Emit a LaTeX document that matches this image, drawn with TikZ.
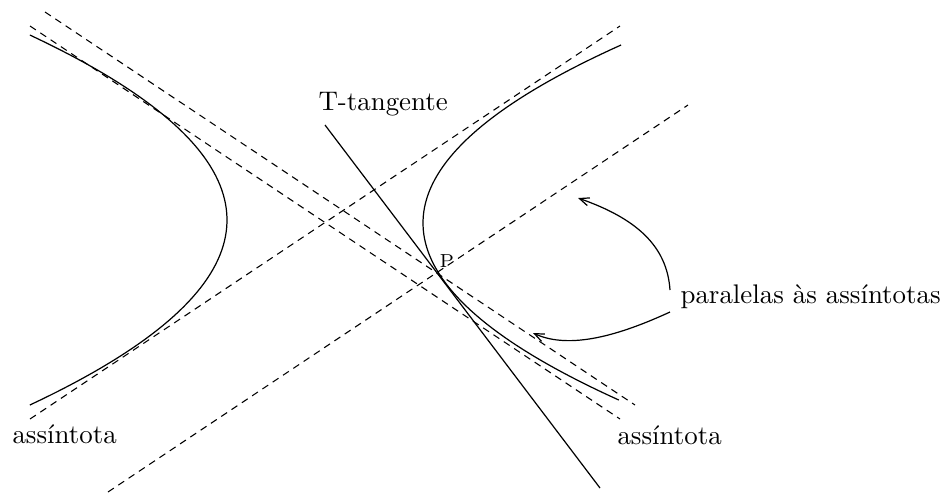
\documentclass[tikz,border=0pt]{standalone}
\usepackage{fontspec}
\usetikzlibrary{arrows.meta}
\tikzset{
  dsh/.style={line width=0.4pt, dash pattern=on 2.6pt off 2pt},
  sld/.style={line width=0.45pt},
  lbl/.style={inner sep=0pt, anchor=base west, font=\normalsize},
  arr/.style={line width=0.45pt, -{Straight Barb[length=3.6pt,width=3pt]}}
}
\begin{document}
\begin{tikzpicture}[x=0.3717pt,y=-0.3717pt]
\useasboundingbox (0,0) rectangle (948,493);
% end points of lines
\coordinate (a1s) at (30,419);  \coordinate (a1e) at (620,26);
\coordinate (a2s) at (30,26);   \coordinate (a2e) at (620,419);
\coordinate (p1s) at (45,12);   \coordinate (p1e) at (635,405);
\coordinate (p2s) at (108,492); \coordinate (p2e) at (688,105);
\coordinate (t1) at (325,125);  \coordinate (t2) at (600,488);
% asymptotes and parallels through P
\draw[dsh] (a1s) -- (a1e);
\draw[dsh] (a2s) -- (a2e);
\draw[dsh] (p1s) -- (p1e);
\draw[dsh] (p2s) -- (p2e);
% tangent
\draw[sld] (t1) -- (t2);
% branches
\draw[sld] plot[domain=-18.5:18.5, samples=80, variable=\t] ({227-0.576*\t*\t},{220+10*\t});
\draw[sld] plot[domain=-17.8:17.7, samples=80, variable=\t] ({423+0.625*\t*\t},{223+10*\t});
% labels
\node[lbl] (tt) at (318,110) {T-tangente};
\node[lbl, font=\scriptsize] (pp) at (439,267) {P};
\node[lbl] (par) at (680,303) {paralelas às assíntotas};
\node[lbl] (asr) at (617,444) {assíntota};
\node[lbl] (asl) at (12,443) {assíntota};
% arrows
\coordinate (s1) at (670,290); \coordinate (e1) at (578,198);
\coordinate (s2) at (670,312); \coordinate (e2) at (533,333);
\draw[arr] (s1) .. controls (667,245) and (635,218) .. (e1);
\draw[arr] (s2) .. controls (620,335) and (570,350) .. (e2);
\end{tikzpicture}
\end{document}
